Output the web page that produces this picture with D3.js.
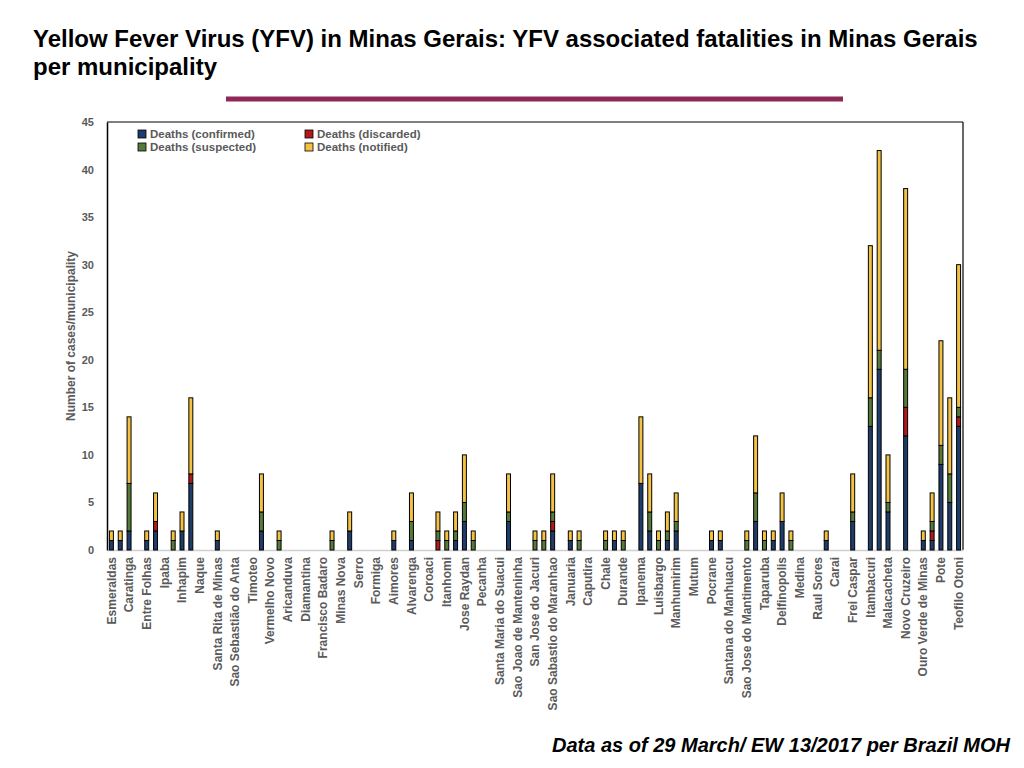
<!DOCTYPE html>
<html>
<head>
<meta charset="utf-8">
<script src="https://cdn.jsdelivr.net/npm/d3@7"></script>
<style>
  body { margin: 0; background: #fff; }
  text { font-family: "Liberation Sans", Arial, sans-serif; }
</style>
</head>
<body>
<div id="chart"></div>
<script>
//************* data ***************/
// 97 municipalities, only every other one carries a visible label in the original
var municipalities = [
  "Esmeraldas", "", "Caratinga", "", "Entre Folhas", "", "Ipaba", "", "Inhapim", "", "Naque", "",
  "Santa Rita de Minas", "", "Sao Sebastião do Anta", "", "Timoteo", "", "Vermelho Novo", "",
  "Aricanduva", "", "Diamantina", "", "Francisco Badaro", "", "Minas Nova", "", "Serro", "",
  "Formiga", "", "Aimores", "", "Alvarenga", "", "Coroaci", "", "Itanhomi", "", "Jose Raydan", "",
  "Pecanha", "", "Santa Maria do Suacui", "", "Sao Joao de Manteninha", "", "San Jose do Jacuri", "",
  "Sao Sabastio do Maranhao", "", "Januaria", "", "Caputira", "", "Chale", "", "Durande", "",
  "Ipanema", "", "Luisbargo", "", "Manhumirim", "", "Mutum", "", "Pocrane", "",
  "Santana do Manhuacu", "", "Sao Jose do Mantimento", "", "Taparuba", "", "Delfinopolis", "",
  "Medina", "", "Raul Sores", "", "Carai", "", "Frei Caspar", "", "Itambacuri", "",
  "Malacacheta", "", "Novo Cruzeiro", "", "Ouro Verde de Minas", "", "Pote", "", "Teofilo Otoni"
];

//                0  1  2  3  4  5  6  7  8  9 10 11 12 13 14 15 16 17 18 19
var confirmed = [ 1, 1, 2, 0, 1, 2, 0, 0, 2, 7, 0, 0, 1, 0, 0, 0, 0, 2, 0, 0,
                  0, 0, 0, 0, 0, 0, 0, 2, 0, 0, 0, 0, 1, 0, 1, 0, 0, 0, 0, 1,
                  3, 0, 0, 0, 0, 3, 0, 0, 0, 0, 2, 0, 1, 0, 0, 0, 0, 1, 0, 0,
                  7, 2, 0, 1, 2, 0, 0, 0, 1, 1, 0, 0, 0, 3, 0, 1, 3, 0, 0, 0,
                  0, 1, 0, 0, 3, 0,13,19, 4, 0,12, 0, 1, 1, 9, 5,13];
var discarded = [ 0, 0, 0, 0, 0, 1, 0, 0, 0, 1, 0, 0, 0, 0, 0, 0, 0, 0, 0, 0,
                  0, 0, 0, 0, 0, 0, 0, 0, 0, 0, 0, 0, 0, 0, 0, 0, 0, 1, 0, 0,
                  0, 0, 0, 0, 0, 0, 0, 0, 0, 0, 1, 0, 0, 0, 0, 0, 0, 0, 0, 0,
                  0, 0, 0, 0, 0, 0, 0, 0, 0, 0, 0, 0, 0, 0, 0, 0, 0, 0, 0, 0,
                  0, 0, 0, 0, 0, 0, 0, 0, 0, 0, 3, 0, 0, 1, 0, 0, 1];
var suspected = [ 0, 0, 5, 0, 0, 0, 0, 1, 0, 0, 0, 0, 0, 0, 0, 0, 0, 2, 0, 1,
                  0, 0, 0, 0, 0, 1, 0, 0, 0, 0, 0, 0, 0, 0, 2, 0, 0, 1, 1, 1,
                  2, 1, 0, 0, 0, 1, 0, 0, 1, 1, 1, 0, 0, 1, 0, 0, 1, 0, 1, 0,
                  0, 2, 1, 1, 1, 0, 0, 0, 0, 0, 0, 0, 1, 3, 1, 0, 0, 1, 0, 0,
                  0, 0, 0, 0, 1, 0, 3, 2, 1, 0, 4, 0, 0, 1, 2, 3, 1];
var notified  = [ 1, 1, 7, 0, 1, 3, 0, 1, 2, 8, 0, 0, 1, 0, 0, 0, 0, 4, 0, 1,
                  0, 0, 0, 0, 0, 1, 0, 2, 0, 0, 0, 0, 1, 0, 3, 0, 0, 2, 1, 2,
                  5, 1, 0, 0, 0, 4, 0, 0, 1, 1, 4, 0, 1, 1, 0, 0, 1, 1, 1, 0,
                  7, 4, 1, 2, 3, 0, 0, 0, 1, 1, 0, 0, 1, 6, 1, 1, 3, 1, 0, 0,
                  0, 1, 0, 0, 4, 0,16,21, 5, 0,19, 0, 1, 3,11, 8,15];

var seriesKeys = ["confirmed", "discarded", "suspected", "notified"];
var seriesNames = ["Deaths (confirmed)", "Deaths (discarded)", "Deaths (suspected)", "Deaths (notified)"];
var yTicks = [0, 5, 10, 15, 20, 25, 30, 35, 40, 45];

var colors = { confirmed: "#1f3d6b", discarded: "#b3191b", suspected: "#577a38", notified: "#f4c242" };

//************* set dimensions ***************/
var margin = {left: 107, right: 61, top: 122, bottom: 218};
var width = 1024 - margin.left - margin.right,
    height = 768 - margin.top - margin.bottom;

var root = d3.select("#chart")
  .append("svg")
    .attr("width", 1024)
    .attr("height", 768);

//************* title ***************/
var title = root.append("g");
var t1 = title.append("text")
    .attr("x", 0).attr("y", 47)
    .style("font-size", "23px").style("font-weight", "bold")
    .text("Yellow Fever Virus (YFV) in Minas Gerais: YFV associated fatalities in Minas Gerais");
title.append("text")
    .attr("x", 0).attr("y", 75)
    .style("font-size", "23px").style("font-weight", "bold")
    .text("per municipality");
// the original font is narrower, squeeze to the same width
var sx = 945 / t1.node().getComputedTextLength();
title.attr("transform", "translate(33,0) scale(" + sx + ",1)");

root.append("rect")
    .attr("x", 226).attr("y", 96.5)
    .attr("width", 617).attr("height", 5)
    .attr("fill", "#8e2856");

root.append("text")
    .attr("x", 1010).attr("y", 752)
    .attr("text-anchor", "end")
    .style("font-size", "20px").style("font-weight", "bold").style("font-style", "italic")
    .text("Data as of 29 March/ EW 13/2017 per Brazil MOH");

var svg = root.append("g")
    .attr("transform", "translate(" + margin.left + "," + margin.top + ")");

//************* scales ***************/
var x = d3.scaleBand()
    .domain(d3.range(municipalities.length))
    .range([0, width])
    .paddingInner(0.55)
    .paddingOuter(0.275);
var y = d3.scaleLinear()
    .domain([0, 45])
    .range([height, 0]);

var rows = municipalities.map(function(m, i) {
  return {i: i, confirmed: confirmed[i], discarded: discarded[i], suspected: suspected[i], notified: notified[i]};
});
var stacked = d3.stack().keys(seriesKeys)(rows);

//************* frame ***************/
svg.append("line").attr("x1", 0).attr("x2", width).attr("y1", 0).attr("y2", 0)
    .attr("stroke", "#000").attr("stroke-width", 1.2);
svg.append("line").attr("x1", width).attr("x2", width).attr("y1", 0).attr("y2", height)
    .attr("stroke", "#000").attr("stroke-width", 1.2);

//************* axes ***************/
var xAxis = svg.append("g")
    .attr("transform", "translate(0," + height + ")")
    .call(d3.axisBottom(x).tickSize(0).tickFormat(function(i) { return municipalities[i]; }));
xAxis.select(".domain").attr("stroke", "#d0d0d0").attr("stroke-width", 1.5);
xAxis.selectAll("text")
    .attr("transform", "rotate(-90)")
    .attr("x", -7).attr("y", 0).attr("dy", "0.35em")
    .attr("text-anchor", "end")
    .style("font-family", "'Liberation Sans', Arial, sans-serif")
    .style("font-size", "12px").style("font-weight", "bold")
    .attr("fill", "#5a5a5a");

var yAxis = svg.append("g")
    .call(d3.axisLeft(y).tickValues(yTicks).tickSize(0).tickPadding(13));
yAxis.select(".domain").attr("stroke", "#000").attr("stroke-width", 1.5);
yAxis.selectAll("text")
    .style("font-family", "'Liberation Sans', Arial, sans-serif")
    .style("font-size", "11px").style("font-weight", "bold")
    .attr("fill", "#5a5a5a");

svg.append("text")
    .attr("transform", "translate(-32," + (height / 2) + ") rotate(-90)")
    .attr("text-anchor", "middle")
    .style("font-size", "12px").style("font-weight", "bold")
    .attr("fill", "#5a5a5a")
    .text("Number of cases/municipality");

//************* bars ***************/
svg.append("g")
  .selectAll("g")
  .data(stacked)
  .enter()
  .append("g")
    .attr("fill", function(s) { return colors[s.key]; })
  .selectAll("rect")
  .data(function(s) { return s.filter(function(d) { return d[1] > d[0]; }); })
  .enter()
  .append("rect")
    .attr("x", function(d) { return x(d.data.i); })
    .attr("width", x.bandwidth())
    .attr("y", function(d) { return y(d[1]); })
    .attr("height", function(d) { return y(d[0]) - y(d[1]); })
    .attr("stroke", "#000")
    .attr("stroke-width", 1);

//************* legend ***************/
var legend = svg.append("g")
  .selectAll("g")
  .data(seriesKeys)
  .enter()
  .append("g")
    .attr("transform", function(k, i) { return "translate(" + (31 + (i % 2) * 167) + "," + (12 + Math.floor(i / 2) * 13) + ")"; });
legend.append("rect")
    .attr("x", 0).attr("y", -4)
    .attr("width", 8).attr("height", 8)
    .attr("fill", function(k) { return colors[k]; })
    .attr("stroke", "#000").attr("stroke-width", 0.8);
legend.append("text")
    .attr("x", 12).attr("dy", "0.35em")
    .style("font-size", "11.5px").style("font-weight", "bold")
    .attr("fill", "#5a5a5a")
    .text(function(k, i) { return seriesNames[i]; });
</script>
</body>
</html>
